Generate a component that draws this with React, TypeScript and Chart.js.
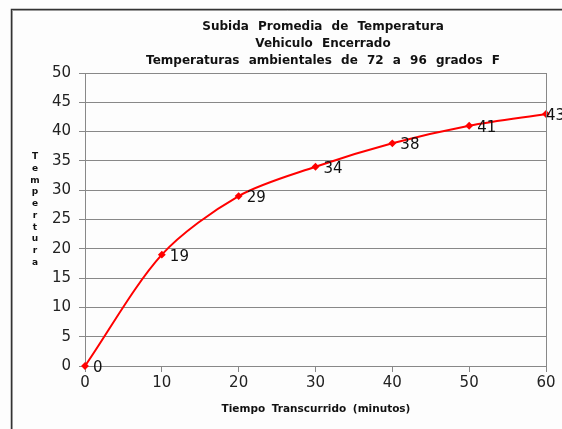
import React, { useEffect, useRef } from "react";
import { Chart, registerables } from "chart.js";

Chart.register(...registerables);

const minutes = [0, 10, 20, 30, 40, 50, 60];
const temps = [0, 19, 29, 34, 38, 41, 43];
const titleLines = [
  "Subida Promedia de Temperatura",
  "Vehiculo Encerrado",
  "Temperaturas ambientales de 72 a 96 grados F",
];
const yTitleLetters = ["T", "e", "m", "p", "e", "r", "t", "u", "r", "a"];
const xTitle = "Tiempo Transcurrido (minutos)";

const TICK_FONT = '"DejaVu Sans", Verdana, sans-serif';
const TITLE_FONT = '"DejaVu Sans", Verdana, sans-serif';

const decorPlugin = {
  id: "decor",
  beforeDraw(chart: any) {
    const { ctx, width, height } = chart;
    ctx.save();
    ctx.fillStyle = "#fdfdfd";
    ctx.fillRect(0, 0, width, height);
    ctx.restore();
  },
  afterDraw(chart: any) {
    const { ctx, chartArea } = chart;
    ctx.save();
    // frame
    ctx.strokeStyle = "#333";
    ctx.lineWidth = 1.5;
    ctx.beginPath();
    ctx.moveTo(11.5, chart.height);
    ctx.lineTo(11.5, 9.5);
    ctx.lineTo(chart.width + 5, 9.5);
    ctx.stroke();
    ctx.strokeStyle = "#999";
    ctx.lineWidth = 1;
    ctx.beginPath();
    ctx.moveTo(12.5, chart.height);
    ctx.lineTo(12.5, 10.5);
    ctx.lineTo(chart.width + 5, 10.5);
    ctx.stroke();
    // right border of plot
    ctx.strokeStyle = "#888";
    ctx.lineWidth = 1;
    ctx.beginPath();
    ctx.moveTo(chartArea.right + 0.5, chartArea.top);
    ctx.lineTo(chartArea.right + 0.5, chartArea.bottom + 6);
    ctx.stroke();

    // title
    ctx.fillStyle = "#111";
    ctx.font = `bold 12px ${TITLE_FONT}`;
    ctx.textAlign = "center";
    ctx.textBaseline = "middle";
    (ctx as any).wordSpacing = "5px";
    const cx = 323;
    titleLines.forEach((t, i) => ctx.fillText(t, cx, 27 + i * 17));

    // x title
    ctx.font = `bold 10.5px ${TITLE_FONT}`;
    (ctx as any).wordSpacing = "3px";
    ctx.fillText(xTitle, 316, 409);
    (ctx as any).wordSpacing = "0px";

    // y title stacked
    ctx.font = `bold 9px ${TITLE_FONT}`;
    yTitleLetters.forEach((l, i) => ctx.fillText(l, 35, 157 + i * 11.7));

    // data labels
    const meta = chart.getDatasetMeta(0);
    ctx.font = `15px ${TICK_FONT}`;
    ctx.textAlign = "left";
    ctx.fillStyle = "#111";
    meta.data.forEach((pt: any, i: number) => {
      const last = i === meta.data.length - 1;
      ctx.fillText(String(temps[i]), pt.x + (last ? 0 : 8), pt.y + 2);
    });
    ctx.restore();
  },
};

export default function App() {
  const ref = useRef<HTMLCanvasElement>(null);
  useEffect(() => {
    const chart = new Chart(ref.current!, {
      type: "line",
      data: {
        datasets: [
          {
            data: minutes.map((m, i) => ({ x: m, y: temps[i] })),
            borderColor: "#ff0000",
            backgroundColor: "#ff0000",
            borderWidth: 2,
            pointRadius: 2.5,
            pointStyle: "rectRot",
            tension: 0.3,
            clip: false as any,
          },
        ],
      },
      options: {
        animation: false,
        responsive: false,
        maintainAspectRatio: false,
        layout: { padding: { left: 12, top: 73, right: 16, bottom: 0 } },
        plugins: { legend: { display: false }, tooltip: { enabled: false }, title: { display: false } },
        scales: {
          x: {
            type: "linear",
            min: 0,
            max: 60,
            ticks: { stepSize: 10, color: "#222", font: { family: TICK_FONT, size: 15 }, padding: 2 },
            grid: { drawOnChartArea: false, drawTicks: true, tickLength: 6, color: "#888" },
            border: { color: "#888" },
            afterFit: (s: any) => {
              s.height = 63;
            },
          },
          y: {
            min: 0,
            max: 50,
            ticks: { stepSize: 5, color: "#222", font: { family: TICK_FONT, size: 15 }, padding: 8 },
            grid: { color: "#888", tickLength: 6 },
            border: { color: "#888" },
            afterFit: (s: any) => {
              s.width = 73;
            },
          },
        },
      },
      plugins: [decorPlugin],
    });
    return () => chart.destroy();
  }, []);
  return (
    <div style={{ position: "fixed", left: 0, top: 0, width: 562, height: 429 }}>
      <canvas ref={ref} width={562} height={429} style={{ display: "block" }} />
    </div>
  );
}
